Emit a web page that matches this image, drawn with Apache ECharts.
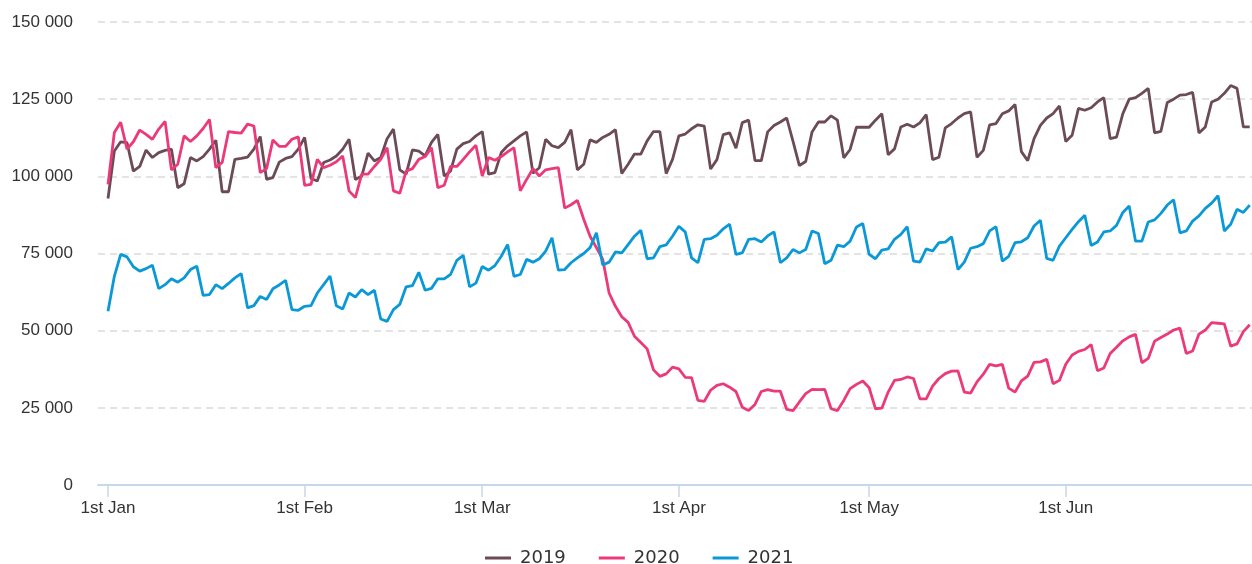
<!DOCTYPE html>
<html>
<head>
<meta charset="utf-8">
<script src="https://cdn.jsdelivr.net/npm/echarts@6/dist/echarts.min.js"></script>
<style>
html,body{margin:0;padding:0;background:#fff;}
#chart{width:1252px;height:564px;}
</style>
</head>
<body>
<div id="chart"></div>
<script>
const seriesNames = ['2019', '2020', '2021'];
const tickDays = [0, 31, 59, 90, 120, 151];
const tickLabels = ['1st Jan', '1st Feb', '1st Mar', '1st Apr', '1st May', '1st Jun'];

const v2019 = [92800,108200,111200,110900,101700,103200,108500,106100,107700,108400,
108800,96300,97600,106100,105000,106400,108800,111700,95000,95000,
105500,105800,106200,108800,112900,99000,99600,104600,105800,106400,
108800,112600,99300,98500,104500,105300,106600,108800,112000,99000,
100100,107500,105000,106100,112200,115300,102100,100700,108600,108200,
106600,111000,113600,100100,101700,108800,110600,111300,113100,114500,
100700,101200,107700,109900,111500,113100,114400,101000,102800,112000,
109900,109300,111000,115100,102100,103900,111800,111000,112600,113600,
115100,100900,103900,107200,107200,111500,114500,114500,100900,105500,
113100,113700,115400,116700,116300,102400,105400,113500,114100,109100,
117400,118200,105100,105100,114400,116500,117600,118900,111300,103500,
104800,114400,117600,117600,119600,118200,106000,108700,115900,115900,
115900,118200,120300,107000,108900,116000,116900,116000,117300,120000,
105400,106200,115700,117100,118900,120300,120900,106200,108400,116700,
117100,120300,121200,123300,108000,105100,112200,116500,118900,120300,
122800,111300,113300,122000,121400,122200,124100,125500,112200,112700,
120300,125000,125500,126900,128500,114100,114600,123900,125000,126300,
126500,127200,114000,116000,124100,125000,126900,129400,128500,116000,
116000];

const v2020 = [97400,114200,117500,108800,111200,115000,113600,112000,115300,117800,
102100,103900,113100,111300,113100,115500,118400,102800,104500,114500,
114200,114000,116900,116300,101200,102500,111800,109700,109700,112000,
112800,97100,97400,105500,102800,103600,104700,106600,95300,93100,
100700,100700,103200,105500,109300,95300,94500,101700,102500,105500,
106400,109300,96300,97100,103200,103200,105500,107900,110100,100100,
106100,105200,106400,107900,109300,95300,99000,102500,100100,102100,
102500,102800,89700,90800,92200,86100,80600,76900,73100,62200,
57900,54500,52700,48200,46200,44100,37300,35200,36000,38200,
37600,34900,34800,27400,27100,30700,32300,32800,31700,30300,
25200,24100,26100,30300,30900,30400,30400,24500,24100,26900,
29600,31000,30900,31000,24700,24100,27400,31200,32600,33700,
31500,24700,24900,30100,33900,34200,35000,34500,27900,27900,
32000,34500,36100,36900,37000,30100,29800,33400,35900,39100,
38600,39100,31400,30100,33700,35300,39700,39900,40700,32800,
33900,39100,42100,43300,43900,45500,37000,37900,42600,44600,
46700,48000,48800,39600,41000,46600,47800,48900,50200,50800,
42600,43400,48900,50200,52600,52400,52200,45000,45700,49700,
51900];

const v2021 = [56300,67600,74700,73900,70700,69300,70100,71200,63600,64900,
66800,65700,67100,69800,70900,61400,61700,64900,63600,65300,
67100,68500,57400,58100,61100,60100,63600,64800,66300,56800,
56600,57900,58100,62200,64900,67700,58100,57000,62200,60900,
63300,61700,63100,53800,53000,56800,58500,64200,64600,68900,
63100,63700,66800,66800,68200,72800,74400,64200,65400,70800,
69600,71100,74100,77900,67600,68200,73100,72200,73300,75800,
80100,69600,69800,72000,73600,75000,76900,81700,71300,72200,
75500,75200,77900,80600,82500,73300,73600,77200,77800,80600,
83800,82000,73600,72000,79600,79800,80900,83000,84500,74700,
75200,79600,79800,78700,80700,82000,72000,73600,76300,75200,
76300,82300,81500,71700,72800,77700,77200,79000,83600,84700,
74700,73300,76100,76500,79600,81200,83700,72500,72200,76500,
75800,78500,78700,80400,69800,72200,76700,77200,78200,82300,
83700,72500,74100,78500,78800,80100,83900,85800,73400,72800,
77400,80100,82800,85300,87400,77600,78700,82000,82300,84100,
88300,90400,79000,79000,85200,85900,88000,90700,92400,81700,
82300,85500,87200,89600,91300,93700,82300,84500,89300,88300,
90700];

const colors = ['#6b4b57', '#ec3979', '#0a99d6'];
const allValues = [v2019, v2020, v2021];

const chart = echarts.init(document.getElementById('chart'), null, {renderer: 'canvas'});
const fmt = v => String(v).replace(/\B(?=(\d{3})+(?!\d))/g, ' ');

chart.setOption({
  animation: false,
  backgroundColor: '#ffffff',
  color: colors,
  grid: {left: 98, right: 0, top: 22, bottom: 79, containLabel: false},
  xAxis: {
    type: 'value',
    min: -1.577,
    max: 180.36,
    axisLine: {show: true, lineStyle: {color: '#c8d7ea', width: 2}},
    axisTick: {show: true, customValues: tickDays, length: 12, lineStyle: {color: '#c8d7ea', width: 1.5}},
    axisLabel: {
      customValues: tickDays,
      formatter: v => tickLabels[tickDays.indexOf(Math.round(v))] || '',
      color: '#333333', fontSize: 17, fontFamily: '"Liberation Sans", Arial, sans-serif', margin: 15
    },
    splitLine: {show: false}
  },
  yAxis: {
    type: 'value',
    min: 0, max: 150000, interval: 25000,
    axisLine: {show: false},
    axisTick: {show: false},
    axisLabel: {
      formatter: v => fmt(v),
      color: '#333333', fontSize: 17, fontFamily: '"Liberation Sans", Arial, sans-serif', margin: 25
    },
    splitLine: {show: true, lineStyle: {color: '#e3e3e3', width: 2, type: [7, 5]}}
  },
  legend: {
    show: true,
    left: 480, top: 544,
    icon: 'rect',
    itemWidth: 26, itemHeight: 3,
    itemGap: 33,
    textStyle: {color: '#333333', fontSize: 18, fontFamily: '"DejaVu Sans", Verdana, sans-serif', padding: [0, 0, 0, 4]},
    data: seriesNames
  },
  series: seriesNames.map((name, k) => ({
    name: name,
    type: 'line',
    showSymbol: false,
    symbol: 'none',
    lineStyle: {width: 2.8, color: colors[k]},
    itemStyle: {color: colors[k]},
    data: allValues[k].map((v, i) => [i, v])
  }))
});
</script>
</body>
</html>
